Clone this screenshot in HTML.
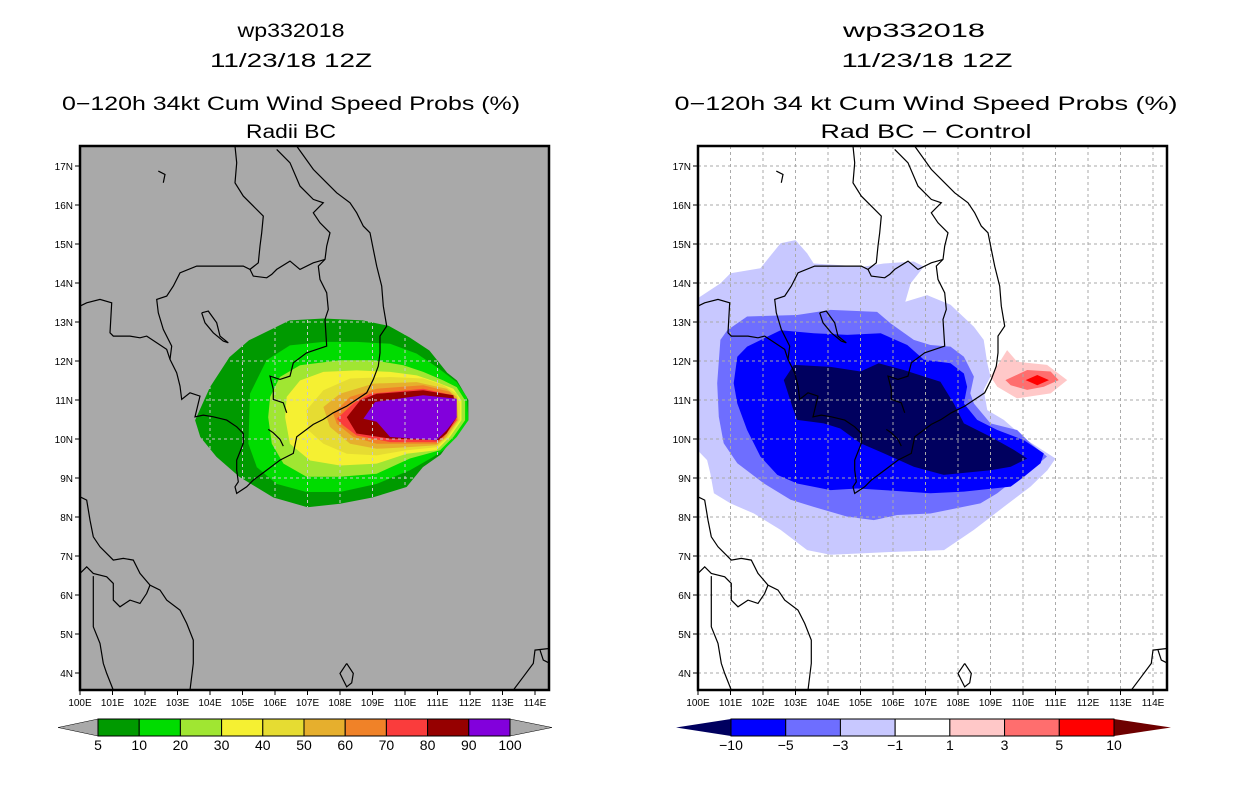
<!DOCTYPE html>
<html><head><meta charset="utf-8"><style>
html,body{margin:0;padding:0;background:#fff;}
svg{display:block;font-family:"Liberation Sans",sans-serif;}
</style></head><body>
<svg id="s" width="1236" height="800" viewBox="0 0 1236 800" xmlns="http://www.w3.org/2000/svg">
<defs>
<clipPath id="clipL"><rect x="80" y="146" width="469" height="544"/></clipPath>
<clipPath id="clipR"><rect x="698" y="146" width="469" height="544"/></clipPath>
</defs>
<g id="titles" font-size="19" fill="#000" text-anchor="middle">
<text x="291" y="37" textLength="107" lengthAdjust="spacingAndGlyphs">wp332018</text>
<text x="291" y="67" textLength="162" lengthAdjust="spacingAndGlyphs">11/23/18 12Z</text>
<text x="291" y="110" textLength="458" lengthAdjust="spacingAndGlyphs">0−120h 34kt Cum Wind Speed Probs (%)</text>
<text x="291" y="138" textLength="90" lengthAdjust="spacingAndGlyphs">Radii BC</text>
<text x="914" y="37" textLength="142" lengthAdjust="spacingAndGlyphs">wp332018</text>
<text x="927" y="67" textLength="171" lengthAdjust="spacingAndGlyphs">11/23/18 12Z</text>
<text x="926" y="110" textLength="503" lengthAdjust="spacingAndGlyphs">0−120h 34 kt Cum Wind Speed Probs (%)</text>
<text x="926" y="138" textLength="211" lengthAdjust="spacingAndGlyphs">Rad BC − Control</text>
</g>
<rect x="80" y="146" width="469" height="544" fill="#a9a9a9"/>
<g id="gL" clip-path="url(#clipL)"></g>
<g id="gR" clip-path="url(#clipR)"></g>
<g id="axes"></g>
<g id="cbars"></g>
</svg>
<script>
const leftLevels = [5,10,20,30,40,50,60,70,80,90];
const leftColors = ["#009a00","#00dc00","#a0e632","#f5f032","#e6dc32","#e6af2d","#f08228","#fa3c3c","#960000","#8200dc"];
const lvl5 = [[103.54,10.48],[104.0,11.33],[104.6,12.1],[105.2,12.53],[106.45,13.04],[107.5,13.09],[108.7,13.04],[109.5,12.9],[110.15,12.6],[110.75,12.27],[111.3,11.7],[111.6,11.5],[111.95,11.0],[111.95,10.48],[111.5,10.05],[111.1,9.6],[110.55,9.28],[110.05,8.77],[109.0,8.5],[108.0,8.34],[107.0,8.25],[105.95,8.5],[104.9,9.03],[104.2,9.54],[103.7,10.05]];
const lvl10 = [[105.23,11.16],[105.74,12.02],[106.46,12.4],[107.49,12.49],[108.51,12.49],[109.54,12.44],[110.36,12.19],[110.97,11.85],[111.59,11.46],[111.9,11.08],[111.95,10.48],[111.59,10.05],[111.18,9.71],[110.87,9.54],[110.15,9.2],[109.13,8.85],[108.0,8.64],[106.97,8.64],[106.05,8.85],[105.44,9.28],[105.18,9.88]];
const lvl20 = [[105.85,11.08],[106.15,11.59],[106.77,11.89],[108.0,12.02],[109.03,12.02],[109.95,11.89],[110.56,11.72],[111.18,11.5],[111.59,11.33],[111.85,10.99],[111.85,10.48],[111.49,10.05],[111.08,9.71],[110.15,9.5],[109.13,9.11],[108.0,9.03],[106.97,9.03],[106.26,9.37],[105.9,9.88],[105.79,10.56]];
const lvl30 = [[106.36,11.08],[106.77,11.5],[107.49,11.72],[108.51,11.76],[109.54,11.72],[110.36,11.63],[110.97,11.46],[111.49,11.29],[111.74,10.99],[111.74,10.48],[111.38,10.05],[110.97,9.71],[110.05,9.62],[109.13,9.37],[108.0,9.32],[107.08,9.45],[106.46,9.88],[106.31,10.56]];
const lvl40 = [[106.97,10.74],[107.49,11.25],[108.31,11.55],[109.54,11.59],[110.56,11.55],[111.18,11.38],[111.59,11.16],[111.69,10.91],[111.69,10.48],[111.33,10.05],[110.97,9.79],[110.05,9.71],[109.13,9.58],[108.21,9.62],[107.49,9.88],[107.03,10.22]];
const lvl50 = [[107.49,10.82],[108.0,11.16],[109.03,11.42],[110.36,11.46],[111.28,11.29],[111.59,11.08],[111.64,10.48],[111.28,10.05],[110.97,9.84],[110.05,9.79],[109.13,9.75],[108.31,9.88],[107.69,10.31]];
const lvl60 = [[107.79,10.65],[108.31,11.08],[109.13,11.29],[110.56,11.38],[111.38,11.21],[111.59,10.99],[111.59,10.48],[111.18,10.01],[110.97,9.88],[110.05,9.88],[109.13,9.88],[108.41,10.05],[107.9,10.39]];
const lvl70 = [[107.9,10.52],[108.41,10.91],[108.92,11.16],[110.56,11.29],[111.49,11.12],[111.59,10.48],[111.18,10.05],[110.97,9.92],[109.54,9.92],[108.51,10.09],[108.1,10.35]];
const lvl80 = [[108.21,10.56],[108.62,10.99],[109.13,11.16],[110.56,11.25],[111.49,11.12],[111.59,10.56],[111.28,10.14],[111.03,9.97],[109.54,10.01],[108.51,10.14]];
const lvl90 = [[108.72,10.52],[109.08,10.95],[110.56,11.12],[111.59,11.03],[111.59,10.56],[111.28,10.22],[110.97,9.97],[109.54,10.05],[109.13,10.44]];
const rightLevels = [-10,-5,-3,-1,1,3,5,10];
const rightColors = ["#00005f","#0000ff","#6e6eff","#c8c8ff","#ffffff","#ffc8c8","#ff6e6e","#ff0000","#6e0000"];
const neg1 = [[99.9,13.56],[100.69,13.99],[101.0,14.25],[101.92,14.38],[102.54,15.02],[103.0,15.1],[103.36,14.76],[103.56,14.5],[105.1,14.42],[105.72,14.5],[106.64,14.55],[106.95,14.42],[106.54,13.99],[106.38,13.52],[107.05,13.69],[107.77,13.44],[108.49,12.88],[108.79,12.54],[108.9,11.94],[109.0,11.6],[108.79,11.26],[108.9,10.74],[109.41,10.49],[110.13,9.97],[111.0,9.5],[110.75,9.2],[110.23,8.78],[109.41,8.26],[108.49,7.67],[107.57,7.15],[106.13,7.11],[105.1,7.07],[104.08,7.03],[103.36,7.15],[102.54,7.67],[101.72,8.09],[101.0,8.35],[100.49,8.61],[100.38,9.12],[100.28,9.46],[100.08,9.63],[99.9,9.8]];
const neg3 = [[100.69,12.54],[100.9,12.79],[101.51,13.14],[103.05,13.18],[104.08,13.31],[105.51,13.26],[105.92,12.97],[106.64,12.54],[107.15,12.41],[107.77,12.37],[108.18,12.11],[108.49,11.6],[108.38,11.17],[108.49,10.91],[109.0,10.4],[109.82,10.23],[110.23,9.89],[110.74,9.55],[110.23,9.2],[109.72,8.95],[109.21,8.61],[108.69,8.35],[107.15,8.09],[106.13,8.05],[105.41,7.92],[104.59,8.01],[103.56,8.26],[102.85,8.44],[102.03,8.86],[101.21,9.38],[100.79,9.89],[100.64,10.57],[100.59,11.43]];
const neg5 = [[101.21,12.11],[101.51,12.37],[102.54,12.79],[103.56,12.71],[104.59,12.67],[105.62,12.71],[106.44,12.41],[106.95,12.03],[107.77,11.94],[108.18,11.68],[108.28,11.34],[108.18,10.91],[108.59,10.49],[109.21,10.23],[110.03,9.97],[110.64,9.63],[110.54,9.38],[110.03,9.03],[109.62,8.78],[108.18,8.65],[107.15,8.61],[105.72,8.69],[104.9,8.73],[104.08,8.69],[103.05,8.86],[102.44,9.08],[101.92,9.55],[101.51,10.23],[101.21,10.91],[101.1,11.43]];
const neg10 = [[102.64,11.51],[102.95,11.9],[104.08,11.85],[105.0,11.73],[105.56,11.94],[106.33,11.77],[107.46,11.47],[107.87,10.91],[108.18,10.4],[109.0,10.06],[109.72,9.72],[110.13,9.5],[109.62,9.29],[109.0,9.2],[107.56,9.08],[106.64,9.29],[105.72,9.63],[105.0,9.89],[104.38,10.27],[103.87,10.4],[103.05,10.49],[102.9,10.83]];
const pos1 = [[109.0,11.6],[109.51,12.28],[109.82,11.98],[110.74,11.9],[111.36,11.51],[110.85,11.17],[109.82,11.04],[109.21,11.34]];
const pos3 = [[109.46,11.51],[110.13,11.77],[110.85,11.73],[111.1,11.51],[110.64,11.34],[110.13,11.26],[109.62,11.38]];
const pos5 = [[110.08,11.51],[110.44,11.64],[110.8,11.51],[110.44,11.38]];
const lonTicks = [100,101,102,103,104,105,106,107,108,109,110,111,112,113,114];
const latTicks = [4,5,6,7,8,9,10,11,12,13,14,15,16,17];
const leftCbarLabels = ["5","10","20","30","40","50","60","70","80","90","100"];
const rightCbarLabels = ["−10","−5","−3","−1","1","3","5","10"];

const NS="http://www.w3.org/2000/svg";
function mk(tag, attrs, parent){const e=document.createElementNS(NS,tag);for(const k in attrs)e.setAttribute(k,attrs[k]);parent.appendChild(e);return e;}
const X0L=80, X0R=698;
function xs(x0){return lon=>x0+(lon-100)*32.5;}
function ys(lat){return 166+(17-lat)*39;}
function pts(poly,X){return poly.map(p=>X(p[0]).toFixed(1)+","+ys(p[1]).toFixed(1)).join(" ");}

const gL=document.getElementById('gL'), gR=document.getElementById('gR');
const XL=xs(X0L), XR=xs(X0R);
const leftPolys=[lvl5,lvl10,lvl20,lvl30,lvl40,lvl50,lvl60,lvl70,lvl80,lvl90];
leftPolys.forEach((p,i)=>{
  const e=mk('polygon',{points:pts(p,XL),fill:leftColors[i]},gL);
  
  
});
const clipG=mk('clipPath',{id:'clipPlume'},document.querySelector('defs'));
mk('polygon',{points:pts(lvl5,XL)},clipG);
const gridL=mk('g',{'clip-path':'url(#clipPlume)',stroke:'#c8c8c8','stroke-width':1,'stroke-dasharray':'3,3'},gL);


lonTicks.forEach(l=>mk('line',{x1:XL(l),x2:XL(l),y1:146,y2:690},gridL));
latTicks.forEach(l=>mk('line',{x1:80,x2:549,y1:ys(l),y2:ys(l)},gridL));

const rightPolys=[[neg1,3],[neg3,2],[neg5,1],[neg10,0],[pos1,5],[pos3,6],[pos5,7]];
const rnames=['diff-contour-minus1','diff-contour-minus3','diff-contour-minus5','diff-contour-minus10','diff-contour-plus1','diff-contour-plus3','diff-contour-plus5'];
rightPolys.forEach((pc,i)=>{
  const e=mk('polygon',{points:pts(pc[0],XR),fill:rightColors[pc[1]]},gR);
  
  
});
const gridR=mk('g',{stroke:'#aaa','stroke-width':1,'stroke-dasharray':'3,3'},gR);


lonTicks.forEach(l=>mk('line',{x1:XR(l),x2:XR(l),y1:146,y2:690},gridR));
latTicks.forEach(l=>mk('line',{x1:698,x2:1167,y1:ys(l),y2:ys(l)},gridR));

const coasts=[
 [[650,0],[700,70],[740,110],[770,140],[810,170],[830,200],[850,240],[870,260],[880,310],[890,360],[905,420],[910,480],[920,540],[900,570],[900,620],[895,660],[880,700],[860,740],[800,780],[760,800],[730,820],[700,835],[650,872],[640,922],[600,942],[560,972],[520,1002],[500,1022],[470,1042],[465,1022],[475,1007],[470,972],[470,942],[490,892],[490,862],[470,842],[440,822],[400,812],[370,807],[345,812],[360,750],[330,740],[305,760],[300,720],[290,680],[270,640],[260,610],[230,590],[200,570],[180,575],[150,570],[100,570],[90,560],[95,470],[60,460],[20,470],[0,480]],
 [[465,0],[470,50],[465,110],[490,150],[520,180],[550,210],[545,260],[540,300],[535,350],[510,370],[490,360],[400,360],[350,360],[300,380],[280,420],[260,450],[230,460],[235,500],[250,550],[275,600],[270,640]],
 [[510,370],[520,390],[560,395],[575,385],[590,370],[630,345],[660,370],[700,350],[735,340]],
 [[590,10],[630,50],[660,120],[700,160],[730,170],[700,200],[720,230],[750,260],[740,300],[735,340],[715,360],[720,400],[740,440],[745,490],[735,520],[740,600],[710,610],[680,620],[640,650],[630,690],[600,700],[570,690],[580,730],[580,760],[610,770],[620,800]],
 [[365,500],[385,495],[410,530],[420,570],[445,590],[430,585],[400,560],[375,530],[365,500]],
 [[565,850],[580,860],[600,880],[610,900]],
 [[0,1052],[20,1062],[30,1122],[40,1172],[60,1202],[100,1242],[130,1237],[160,1242],[180,1282],[210,1317],[240,1332],[260,1362],[300,1392],[320,1432],[340,1482],[340,1552],[330,1632]],
 [[0,1282],[20,1262],[40,1282],[80,1292],[100,1312],[100,1362],[120,1382],[150,1362],[180,1372],[200,1342],[210,1317]],
 [[40,1290],[40,1352],[40,1442],[60,1492],[70,1552],[80,1582],[100,1632]],
 [[1300,1632],[1330,1592],[1360,1552],[1365,1512],[1410,1507]],
 [[1380,1512],[1390,1542],[1410,1552]],
 [[800,1552],[780,1582],[790,1602],[800,1622],[815,1610],[820,1582],[800,1552]],
 [[235,75],[255,85],[250,110]]
];
function coastPts(c,X){return c.map(p=>X(100+p[0]/97.5).toFixed(1)+","+ys(17.51-p[1]/117).toFixed(1)).join(" ");}
[[gL,XL,'left'],[gR,XR,'right']].forEach(([g,X,side])=>{
  const cg=mk('g',{fill:'none',stroke:'#000','stroke-width':1.2},g);
  
  
  coasts.forEach(c=>mk('polyline',{points:coastPts(c,X)},cg));
});

const ax=document.getElementById('axes');
[[X0L,XL,'left'],[X0R,XR,'right']].forEach(([x0,X,side])=>{
  const f=mk('rect',{x:x0,y:146,width:469,height:544,fill:'none',stroke:'#000','stroke-width':2.5},ax);
  
  
  lonTicks.forEach(l=>{
    mk('line',{x1:X(l),x2:X(l),y1:690,y2:695,stroke:'#000','stroke-width':1},ax);
    const t=mk('text',{x:X(l),y:706,'font-size':10,'text-anchor':'middle'},ax);
    t.textContent=l+'E';
    
    
  });
  latTicks.forEach(l=>{
    mk('line',{x1:x0-5,x2:x0,y1:ys(l),y2:ys(l),stroke:'#000','stroke-width':1},ax);
    const t=mk('text',{x:x0-7,y:ys(l)+4,'font-size':10,'text-anchor':'end'},ax);
    t.textContent=l+'N';
    
    
  });
});

const cb=document.getElementById('cbars');
(function(){
  const x0=98,x1=510,y0=719,y1=736,n=leftLevels.length,w=(x1-x0)/n;
  const a=mk('polygon',{points:`${x0},${y0} ${x0},${y1} 58,${(y0+y1)/2}`,fill:'#a9a9a9',stroke:'#000','stroke-width':0.5},cb);
  
  const b=mk('polygon',{points:`${x1},${y0} ${x1},${y1} 552,${(y0+y1)/2}`,fill:'#a9a9a9',stroke:'#000','stroke-width':0.5},cb);
  
  leftColors.forEach((c,i)=>{
    const r=mk('rect',{x:x0+i*w,y:y0,width:w,height:y1-y0,fill:c,stroke:'#000','stroke-width':1},cb);
    
  });
  leftCbarLabels.forEach((s,i)=>{
    const t=mk('text',{x:x0+i*w,y:750,'font-size':14,'text-anchor':'middle'},cb);
    t.textContent=s;
  });
})();
(function(){
  const x0=731,x1=1114,y0=719,y1=736,n=7,w=(x1-x0)/n;
  const a=mk('polygon',{points:`${x0},${y0} ${x0},${y1} 676,${(y0+y1)/2}`,fill:rightColors[0]},cb);
  
  const b=mk('polygon',{points:`${x1},${y0} ${x1},${y1} 1171,${(y0+y1)/2}`,fill:rightColors[8]},cb);
  
  for(let i=0;i<n;i++){
    const r=mk('rect',{x:x0+i*w,y:y0,width:w,height:y1-y0,fill:rightColors[i+1],stroke:'#000','stroke-width':1},cb);
    
  }
  rightCbarLabels.forEach((s,i)=>{
    const t=mk('text',{x:x0+i*w,y:750,'font-size':14,'text-anchor':'middle'},cb);
    t.textContent=s;
  });
})();
</script>
</body></html>
